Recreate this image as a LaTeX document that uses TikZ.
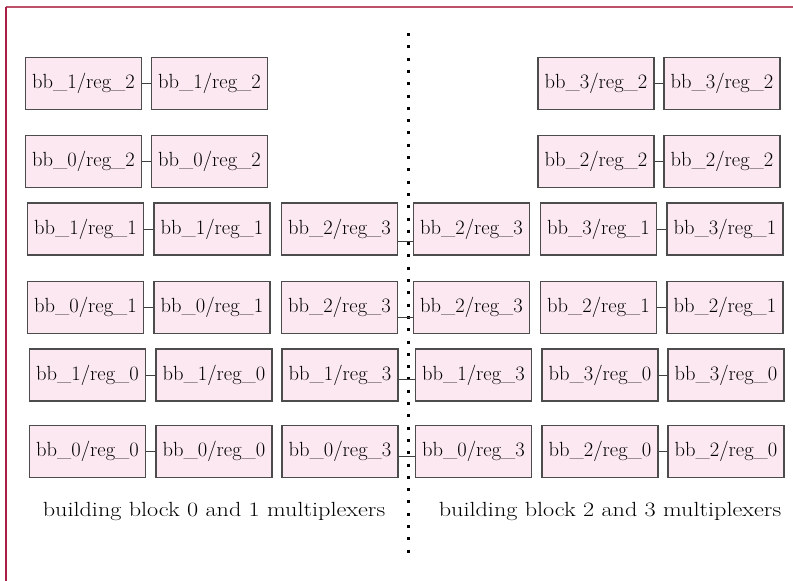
\documentclass[tikz,border=0pt]{standalone}
\usepackage{fontspec}
\newcommand{\widecaption}[1]{\scalebox{1.18}[1]{#1}}
\begin{document}
\begin{tikzpicture}[x=1pt,y=-1pt,
  reg/.style={draw=black!70, line width=1.2pt, fill={rgb,255:red,252;green,232;blue,240},
    minimum width=116pt, minimum height=52pt, inner sep=0pt,
    font=\fontsize{20.5}{24}\selectfont},
  wire/.style={draw=black!75, line width=1pt},
  caption/.style={inner sep=0pt, font=\fontsize{20.5}{24}\selectfont},
  frametop/.style={draw={rgb,255:red,188;green,82;blue,106}, line width=2pt},
  frameleft/.style={draw={rgb,255:red,168;green,30;blue,70}, line width=2pt},
  divider/.style={draw=black, line width=3pt, dash pattern=on 3pt off 9.3pt}]
\useasboundingbox (0,0) rectangle (793,581);

% frame
\coordinate (fl) at (5.5,6.5);
\coordinate (fr) at (793,6.5);
\coordinate (fb) at (5.5,581);
\draw[frametop] (fl) -- (fr);
\draw[frameleft] (fl) -- (fb);

% divider between the two halves
\coordinate (divtop) at (408,33);
\coordinate (divbot) at (408,560);
\draw[divider] (divtop) -- (divbot);

% row 1
\node[reg] (a1) at (83.5,83.5) {bb\_1/reg\_2};
\node[reg] (b1) at (209.5,83.5) {bb\_1/reg\_2};
\node[reg] (e1) at (596,83.5) {bb\_3/reg\_2};
\node[reg] (f1) at (722,83.5) {bb\_3/reg\_2};
% row 2
\node[reg] (a2) at (83.5,161.5) {bb\_0/reg\_2};
\node[reg] (b2) at (209.5,161.5) {bb\_0/reg\_2};
\node[reg] (e2) at (596,161.5) {bb\_2/reg\_2};
\node[reg] (f2) at (722,161.5) {bb\_2/reg\_2};
% row 3
\node[reg] (a3) at (85.5,229) {bb\_1/reg\_1};
\node[reg] (b3) at (212,229) {bb\_1/reg\_1};
\node[reg] (c3) at (339.5,229) {bb\_2/reg\_3};
\node[reg] (d3) at (471.5,229) {bb\_2/reg\_3};
\node[reg] (e3) at (598.5,229) {bb\_3/reg\_1};
\node[reg] (f3) at (725,229) {bb\_3/reg\_1};
% row 4
\node[reg] (a4) at (85.5,307.5) {bb\_0/reg\_1};
\node[reg] (b4) at (212,307.5) {bb\_0/reg\_1};
\node[reg] (c4) at (339.5,307.5) {bb\_2/reg\_3};
\node[reg] (d4) at (471.5,307.5) {bb\_2/reg\_3};
\node[reg] (e4) at (598.5,307.5) {bb\_2/reg\_1};
\node[reg] (f4) at (725,307.5) {bb\_2/reg\_1};
% row 5
\node[reg] (a5) at (87.5,375) {bb\_1/reg\_0};
\node[reg] (b5) at (214,375) {bb\_1/reg\_0};
\node[reg] (c5) at (340,375) {bb\_1/reg\_3};
\node[reg] (d5) at (473.5,375) {bb\_1/reg\_3};
\node[reg] (e5) at (600,375) {bb\_3/reg\_0};
\node[reg] (f5) at (726,375) {bb\_3/reg\_0};
% row 6
\node[reg] (a6) at (87.5,451.5) {bb\_0/reg\_0};
\node[reg] (b6) at (214,451.5) {bb\_0/reg\_0};
\node[reg] (c6) at (340,451.5) {bb\_0/reg\_3};
\node[reg] (d6) at (473.5,451.5) {bb\_0/reg\_3};
\node[reg] (e6) at (600,451.5) {bb\_2/reg\_0};
\node[reg] (f6) at (726,451.5) {bb\_2/reg\_0};

% links inside each half
\foreach \r in {1,...,6} {
  \draw[wire] (a\r.east) -- (b\r.west);
  \draw[wire] (e\r.east) -- (f\r.west);
}
% links across the divider
\draw[wire] ([yshift=-12pt]c3.east) -- ([yshift=-12pt]d3.west);
\draw[wire] ([yshift=-10pt]c4.east) -- ([yshift=-10pt]d4.west);
\draw[wire] ([yshift=-4pt]c5.east) -- ([yshift=-4pt]d5.west);
\draw[wire] ([yshift=-4.5pt]c6.east) -- ([yshift=-4.5pt]d6.west);

% captions
\node[caption] (capl) at (214,511) {\widecaption{building block 0 and 1 multiplexers}};
\node[caption] (capr) at (610,511) {\widecaption{building block 2 and 3 multiplexers}};
\end{tikzpicture}
\end{document}
